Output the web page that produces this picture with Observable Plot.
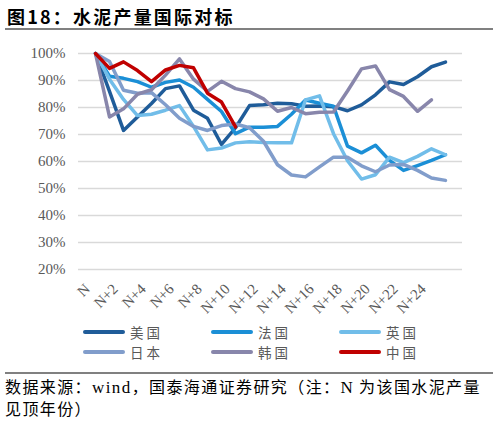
<!DOCTYPE html>
<html><head><meta charset="utf-8">
<script src="https://cdn.jsdelivr.net/npm/d3@7"></script>
<script src="https://cdn.jsdelivr.net/npm/@observablehq/plot@0.6"></script>
<style>
body{margin:0;width:498px;height:424px;position:relative;background:#fff;font-family:"Noto Sans CJK SC",sans-serif;overflow:hidden}
#title{position:absolute;left:7px;top:4px;font-size:18px;font-weight:700;letter-spacing:2.2px;line-height:24px;color:#000;white-space:nowrap}
.rule{position:absolute;left:5px;width:488px;height:2px;background:#808080}
#chart{position:absolute;left:0;top:31px}
.item{position:absolute;display:flex;align-items:center;font-size:13.5px;color:#595959;letter-spacing:3px;height:20px;white-space:nowrap}
.sw{width:42px;height:4px;border-radius:2px;margin-right:5px}
#source{position:absolute;left:5px;top:376px;font-size:16px;line-height:21px;color:#000;white-space:nowrap;letter-spacing:1.4px}
.lat{font-family:"Liberation Serif",serif;font-size:17px}
</style>
</head><body>
<div id="title">图18：水泥产量国际对标</div>
<div class="rule" style="top:28px"></div>
<div id="chart"></div>
<div id="legend"></div>
<div class="rule" style="top:372px"></div>
<div id="source">数据来源：<span class="lat">wind</span>，国泰海通证券研究（注：<span class="lat">N</span> 为该国水泥产量<br>见顶年份）</div>
<script>
const categories = ["N","N+1","N+2","N+3","N+4","N+5","N+6","N+7","N+8","N+9","N+10","N+11","N+12","N+13","N+14","N+15","N+16","N+17","N+18","N+19","N+20","N+21","N+22","N+23","N+24","N+25"];
const xTickLabels = ["N","N+2","N+4","N+6","N+8","N+10","N+12","N+14","N+16","N+18","N+20","N+22","N+24"];
const yTicks = [20,30,40,50,60,70,80,90,100];
const countries = ["美国","法国","英国","日本","韩国","中国"];
const colors = ["#1f5c99","#1b8fd6","#71bde9","#819dcb","#8886ab","#c00000"];

const usa    = [100,86,71.5,76.5,81.5,87,88,79,76,66.3,72.5,80.7,81,81.6,81.4,80.5,80.6,80.3,78.8,81,84.7,89.5,88.5,91.4,95.1,96.8];
const france = [100,91.6,90.8,89.6,87.5,89.3,90.2,87.5,83,78.5,70.3,72.7,72.7,73,77.5,82.8,81.6,80.5,65.7,63.2,66,60.4,56.7,58.5,60.4,62.5];
const uk     = [100,90.5,83,77,77.5,79,80.7,73,64.3,65,66.9,67.3,67,66.9,66.9,82.8,84.3,70.3,60.3,53.5,55.1,61.6,59.6,61.9,64.7,62.5];
const japan  = [100,97,86.4,85.3,85.5,81,76,73,71.5,73.3,73.9,72.5,67.5,58.8,55,54.3,58,61.6,61.6,58.4,56.2,58.7,58.9,56.7,53.9,53];
const korea  = [100,76.5,79.5,84.9,86.6,92,98,90.5,86,89.7,87,85.8,83.2,78.6,80,77.7,78.2,78.3,86.1,94.3,95.4,86.6,84.1,78.6,82.8];
const china  = [100,94.5,96.9,93.7,89.6,93.9,95.6,94.7,85.3,82,72.8];

const seriesValues = [usa, france, uk, japan, korea, china];
const rows = countries.flatMap((c, k) => seriesValues[k].map((v, i) => ({country: c, cat: categories[i], value: v})));

const chart = Plot.plot({
  width: 498, height: 290,
  marginLeft: 78, marginRight: 36, marginTop: 22, marginBottom: 52,
  style: {fontFamily: "'Liberation Serif','Noto Sans CJK SC',serif", fontSize: "15px", color: "#595959", background: "transparent"},
  x: {type: "point", domain: categories, padding: 0.5},
  y: {domain: [20, 100]},
  color: {domain: countries, range: colors},
  marks: [
    Plot.gridY(yTicks, {stroke: "#d9d9d9", strokeOpacity: 1, strokeWidth: 1.5}),
    Plot.axisY(yTicks, {tickSize: 0, tickPadding: 13, tickFormat: d => d + "%", label: null}),
    Plot.axisX(xTickLabels, {tickSize: 0, tickRotate: -45, tickPadding: 6, dx: -8, dy: 11, label: null}),
    Plot.line(rows, {x: "cat", y: "value", z: "country", stroke: "country", strokeWidth: 3.5, strokeLinejoin: "round"})
  ]
});
document.getElementById("chart").appendChild(chart);

const legend = document.getElementById("legend");
const colX = [83, 211, 339];
const rowY = [322, 342];
countries.forEach((c, k) => {
  const it = document.createElement("div");
  it.className = "item";
  it.style.left = colX[k % 3] + "px";
  it.style.top = rowY[Math.floor(k / 3)] + "px";
  it.innerHTML = `<span class="sw" style="background:${colors[k]}"></span><span>${c}</span>`;
  legend.appendChild(it);
});
</script>
</body></html>
